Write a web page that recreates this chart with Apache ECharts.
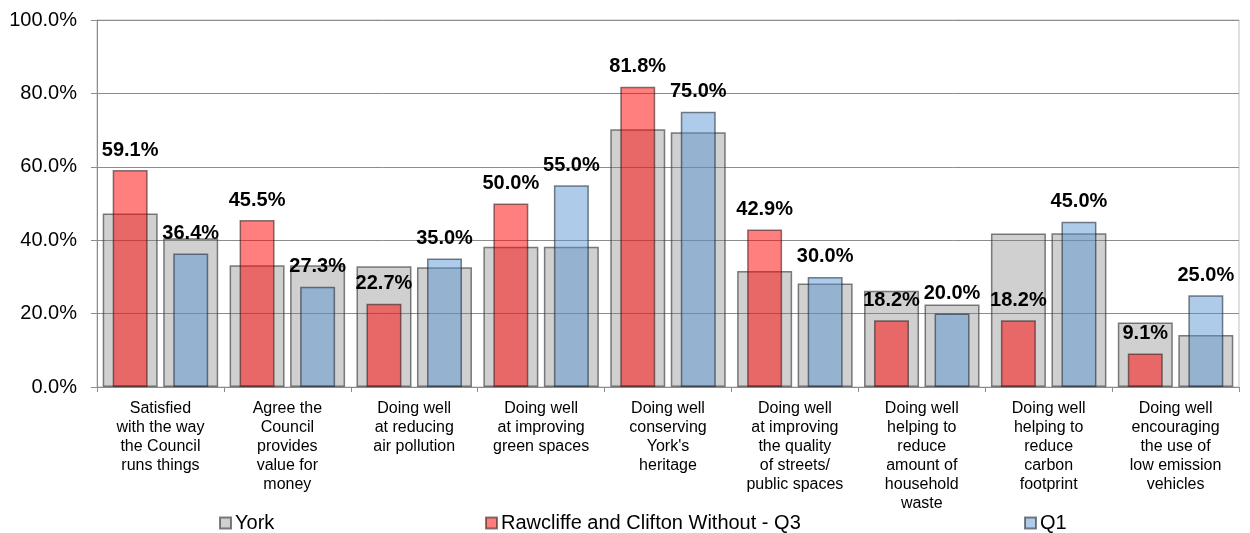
<!DOCTYPE html>
<html>
<head>
<meta charset="utf-8">
<script src="https://cdn.jsdelivr.net/npm/echarts@6/dist/echarts.min.js"></script>
<style>
html,body{margin:0;padding:0;background:#fff;}
#chart{width:1250px;height:533px;}
</style>
</head>
<body>
<div id="chart"></div>
<script>
const categories = [
  "Satisfied\nwith the way\nthe Council\nruns things",
  "Agree the\nCouncil\nprovides\nvalue for\nmoney",
  "Doing well\nat reducing\nair pollution",
  "Doing well\nat improving\ngreen spaces",
  "Doing well\nconserving\nYork's\nheritage",
  "Doing well\nat improving\nthe quality\nof streets/\npublic spaces",
  "Doing well\nhelping to\nreduce\namount of\nhousehold\nwaste",
  "Doing well\nhelping to\nreduce\ncarbon\nfootprint",
  "Doing well\nencouraging\nthe use of\nlow emission\nvehicles"
];
const yorkQ3 = [47.3, 33.2, 32.9, 38.2, 70.2, 31.6, 26.2, 41.8, 17.6];
const yorkQ1 = [40.5, 33.2, 32.6, 38.2, 69.4, 28.2, 22.5, 41.9, 14.2];
const rawcliffeQ3 = [59.1, 45.5, 22.7, 50.0, 81.8, 42.9, 18.2, 18.2, 9.1];
const q1 = [36.4, 27.3, 35.0, 55.0, 75.0, 30.0, 20.0, 45.0, 25.0];
const yTicks = [0, 20, 40, 60, 80, 100];

const FONT = "'Liberation Sans', Arial, sans-serif";
const chart = echarts.init(document.getElementById('chart'), null, {renderer: 'canvas'});

const yorkStyle = {color: 'rgba(128,128,128,0.37)', borderColor: 'rgba(60,60,60,0.65)', borderWidth: 1.5};
const dataLabel = {
  show: true, position: 'top', distance: 10,
  color: '#000', fontFamily: FONT, fontSize: 20, fontWeight: 'bold',
  formatter: p => p.value.toFixed(1) + '%'
};
const legendText = {fontFamily: FONT, fontSize: 20, color: '#000', padding: [0,0,0,-1]};

chart.setOption({
  animation: false,
  backgroundColor: '#fff',
  textStyle: {fontFamily: FONT},
  grid: {left: 97, right: 11, top: 20, bottom: 146, show: true, borderColor: '#c0c0c0', borderWidth: 1, containLabel: false},
  legend: [
    {data: ['York'], left: 214, top: 508, icon: 'rect', itemWidth: 11, itemHeight: 11, textStyle: legendText},
    {data: ['Rawcliffe and Clifton Without - Q3'], left: 480, top: 508, icon: 'rect', itemWidth: 11, itemHeight: 11, textStyle: legendText},
    {data: ['Q1'], left: 1019, top: 508, icon: 'rect', itemWidth: 11, itemHeight: 11, textStyle: legendText}
  ],
  xAxis: [
    {type: 'category', data: categories, boundaryGap: true,
     axisLine: {lineStyle: {color: '#8c8c8c', width: 1}},
     axisTick: {show: true, length: 5, lineStyle: {color: '#8c8c8c'}},
     axisLabel: {interval: 0, margin: 12, color: '#000', fontFamily: FONT, fontSize: 16, lineHeight: 19}},
    {type: 'category', data: categories, show: false}
  ],
  yAxis: {
    type: 'value', min: 0, max: 100, interval: 20,
    axisLine: {show: true, lineStyle: {color: '#8c8c8c', width: 1}},
    axisTick: {show: true, length: 6, lineStyle: {color: '#8c8c8c'}},
    splitLine: {show: true, lineStyle: {color: '#8c8c8c', width: 1}},
    axisLabel: {margin: 20, color: '#000', fontFamily: FONT, fontSize: 20,
      formatter: v => (yTicks.includes(v) ? v.toFixed(1) + '%' : '')}
  },
  series: [
    {name: 'York', type: 'bar', xAxisIndex: 0, data: yorkQ3, barWidth: 55, barGap: '10%',
     itemStyle: yorkStyle, z: 2},
    {name: 'York', type: 'bar', xAxisIndex: 0, data: yorkQ1, barWidth: 55, barGap: '10%',
     itemStyle: yorkStyle, z: 2},
    {name: 'Rawcliffe and Clifton Without - Q3', type: 'bar', xAxisIndex: 1, data: rawcliffeQ3,
     barWidth: 35, barGap: '73%',
     itemStyle: {color: 'rgba(255,0,0,0.5)', borderColor: 'rgba(40,20,20,0.55)', borderWidth: 1.5},
     label: dataLabel, z: 3},
    {name: 'Q1', type: 'bar', xAxisIndex: 1, data: q1, barWidth: 35, barGap: '73%',
     itemStyle: {color: 'rgba(86,147,209,0.48)', borderColor: 'rgba(20,30,40,0.55)', borderWidth: 1.5},
     label: dataLabel, z: 3}
  ]
});
</script>
</body>
</html>
